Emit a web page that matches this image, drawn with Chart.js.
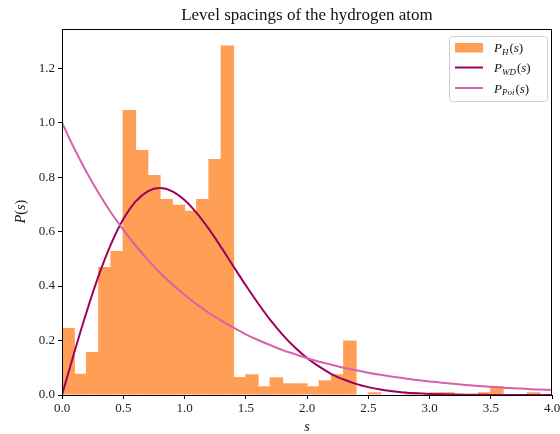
<!DOCTYPE html>
<html><head><meta charset="utf-8">
<script src="https://cdn.jsdelivr.net/npm/chart.js@4/dist/chart.umd.min.js"></script>
<style>html,body{margin:0;padding:0;background:#fff}#wrap{width:560px;height:434px}</style>
</head><body><div id="wrap"><canvas id="c" width="560" height="434"></canvas></div>
<script>
// Histogram bins (centres) and heights
const binCenters = [0.05,0.15,0.25,0.35,0.45,0.55,0.65,0.75,0.85,0.95,1.05,1.15,1.25,1.35,1.45,1.55,1.65,1.75,1.85,1.95,2.05,2.15,2.25,2.35,2.45,2.55,2.65,2.75,2.85,2.95,3.05,3.15,3.25,3.35,3.45,3.55,3.65,3.75,3.85,3.95];
const histValues = [0.246,0.078,0.158,0.470,0.529,1.047,0.900,0.808,0.720,0.699,0.677,0.720,0.867,1.283,0.066,0.076,0.032,0.065,0.043,0.043,0.032,0.054,0.076,0.200,0.0,0.010,0.0,0.0,0.010,0.0,0.010,0.010,0.0,0.0,0.010,0.032,0.0,0.0,0.010,0.0];
// Curve sample points
const curveS = [0,0.1,0.2,0.3,0.4,0.5,0.6,0.7,0.8,0.9,1.0,1.1,1.2,1.3,1.4,1.5,1.6,1.7,1.8,1.9,2.0,2.1,2.2,2.3,2.4,2.5,2.6,2.7,2.8,2.9,3.0,3.1,3.2,3.3,3.4,3.5,3.6,3.7,3.8,3.9,4.0];
const wdValues = [0,0.156,0.304,0.439,0.554,0.645,0.710,0.748,0.760,0.748,0.716,0.668,0.609,0.542,0.472,0.403,0.337,0.276,0.222,0.175,0.136,0.104,0.077,0.057,0.041,0.029,0.020,0.014,0.009,0.006,0.004,0.0025,0.0016,0.001,0.0006,0.0004,0.0002,0.0001,0.0001,0,0];
const poiValues = [1.000,0.905,0.819,0.741,0.670,0.607,0.549,0.497,0.449,0.407,0.368,0.333,0.301,0.273,0.247,0.223,0.202,0.183,0.165,0.150,0.135,0.122,0.111,0.100,0.091,0.082,0.074,0.067,0.061,0.055,0.050,0.045,0.041,0.037,0.033,0.030,0.027,0.025,0.022,0.020,0.018];
const xTicks = [0,0.5,1.0,1.5,2.0,2.5,3.0,3.5,4.0];
const yTicks = [0,0.2,0.4,0.6,0.8,1.0,1.2];

const ORANGE = 'rgb(255,158,85)';
const WD = 'rgb(158,0,92)';
const POI = 'rgb(214,98,170)';
const SERIF = '"Liberation Serif","DejaVu Serif",serif';

function mathLabel(ctx, x, y, sub, size) {
  ctx.save();
  ctx.textBaseline = 'alphabetic';
  ctx.textAlign = 'left';
  ctx.fillStyle = '#111';
  ctx.font = 'italic ' + size + 'px ' + SERIF;
  ctx.fillText('P', x, y); x += ctx.measureText('P').width;
  if (sub) {
    ctx.font = 'italic ' + Math.round(size*0.7) + 'px ' + SERIF;
    ctx.fillText(sub, x, y + size*0.22); x += ctx.measureText(sub).width + 1;
  }
  ctx.font = size + 'px ' + SERIF;
  ctx.fillText('(', x, y); x += ctx.measureText('(').width;
  ctx.font = 'italic ' + size + 'px ' + SERIF;
  ctx.fillText('s', x, y); x += ctx.measureText('s').width;
  ctx.font = size + 'px ' + SERIF;
  ctx.fillText(')', x, y);
  ctx.restore();
}

const decor = {
  id: 'decor',
  afterDraw(chart) {
    const ctx = chart.ctx, a = chart.chartArea;
    ctx.save();
    ctx.strokeStyle = '#000'; ctx.lineWidth = 1;
    ctx.strokeRect(Math.round(a.left)+0.5, Math.round(a.top)+0.5, Math.round(a.right-a.left)-1, Math.round(a.bottom-a.top));
    // title
    ctx.fillStyle = '#111';
    ctx.font = '17px ' + SERIF;
    ctx.textAlign = 'center'; ctx.textBaseline = 'alphabetic';
    ctx.fillText('Level spacings of the hydrogen atom', (a.left+a.right)/2, 20);
    // x title
    ctx.font = 'italic 14px ' + SERIF;
    ctx.fillText('s', (a.left+a.right)/2, 431);
    // y title
    ctx.save();
    ctx.translate(25, (a.top+a.bottom)/2);
    ctx.rotate(-Math.PI/2);
    ctx.font = '14px ' + SERIF;
    const w = ctx.measureText('P(s)').width;
    mathLabel(ctx, -w/2, 0, '', 14);
    ctx.restore();
    // legend
    const lx = 449, ly = 36, lw = 98, lh = 65;
    ctx.fillStyle = 'rgba(255,255,255,0.8)';
    ctx.strokeStyle = '#d0d0d0';
    ctx.beginPath();
    ctx.roundRect(lx+0.5, ly+0.5, lw, lh, 3);
    ctx.fill(); ctx.stroke();
    ctx.fillStyle = ORANGE;
    ctx.fillRect(455, 43, 28, 9.5);
    ctx.lineWidth = 2;
    ctx.strokeStyle = WD;
    ctx.beginPath(); ctx.moveTo(455, 67.5); ctx.lineTo(483, 67.5); ctx.stroke();
    ctx.strokeStyle = POI;
    ctx.beginPath(); ctx.moveTo(455, 88); ctx.lineTo(483, 88); ctx.stroke();
    mathLabel(ctx, 494, 52, 'H', 13);
    mathLabel(ctx, 494, 72, 'WD', 13);
    mathLabel(ctx, 494, 92.5, 'Poi', 13);
    ctx.restore();
  }
};

new Chart(document.getElementById('c'), {
  type: 'bar',
  data: {
    datasets: [
      { type: 'bar', label: 'P_H(s)', data: binCenters.map((x,i)=>({x, y: histValues[i]})),
        backgroundColor: ORANGE, borderWidth: 0, barPercentage: 1.1, categoryPercentage: 1.0, grouped: false, order: 3 },
      { type: 'line', label: 'P_WD(s)', data: curveS.map((x,i)=>({x, y: wdValues[i]})),
        borderColor: WD, borderWidth: 2, pointRadius: 0, fill: false, cubicInterpolationMode: 'monotone', order: 2 },
      { type: 'line', label: 'P_Poi(s)', data: curveS.map((x,i)=>({x, y: poiValues[i]})),
        borderColor: POI, borderWidth: 2, pointRadius: 0, fill: false, cubicInterpolationMode: 'monotone', order: 1 }
    ]
  },
  options: {
    responsive: false, animation: false, devicePixelRatio: 1,
    layout: { padding: { top: 29, right: 8, left: 0, bottom: 0 } },
    plugins: { legend: { display: false }, title: { display: false }, tooltip: { enabled: false } },
    scales: {
      x: {
        type: 'linear', min: 0, max: 4, offset: false,
        afterBuildTicks: s => { s.ticks = xTicks.map(v => ({ value: v })); },
        afterFit: s => { s.height = 39; s.paddingRight = 0; s.paddingLeft = 0; },
        ticks: { callback: v => Number(v).toFixed(1), color: '#222', font: { family: SERIF, size: 13 }, padding: 2, maxRotation: 0 },
        grid: { display: true, offset: false, drawOnChartArea: false, drawTicks: true, tickLength: 4, color: '#000' },
        border: { display: true, color: '#000', width: 1 }
      },
      y: {
        type: 'linear', min: 0, max: 1.344,
        afterBuildTicks: s => { s.ticks = yTicks.map(v => ({ value: v })); },
        afterFit: s => { s.width = 62; s.paddingTop = 0; s.paddingBottom = 0; },
        ticks: { callback: v => Number(v).toFixed(1), color: '#222', font: { family: SERIF, size: 13 }, padding: 3 },
        grid: { display: true, drawOnChartArea: false, drawTicks: true, tickLength: 4, color: '#000' },
        border: { display: true, color: '#000', width: 1 }
      }
    }
  },
  plugins: [decor]
});
</script></body></html>
